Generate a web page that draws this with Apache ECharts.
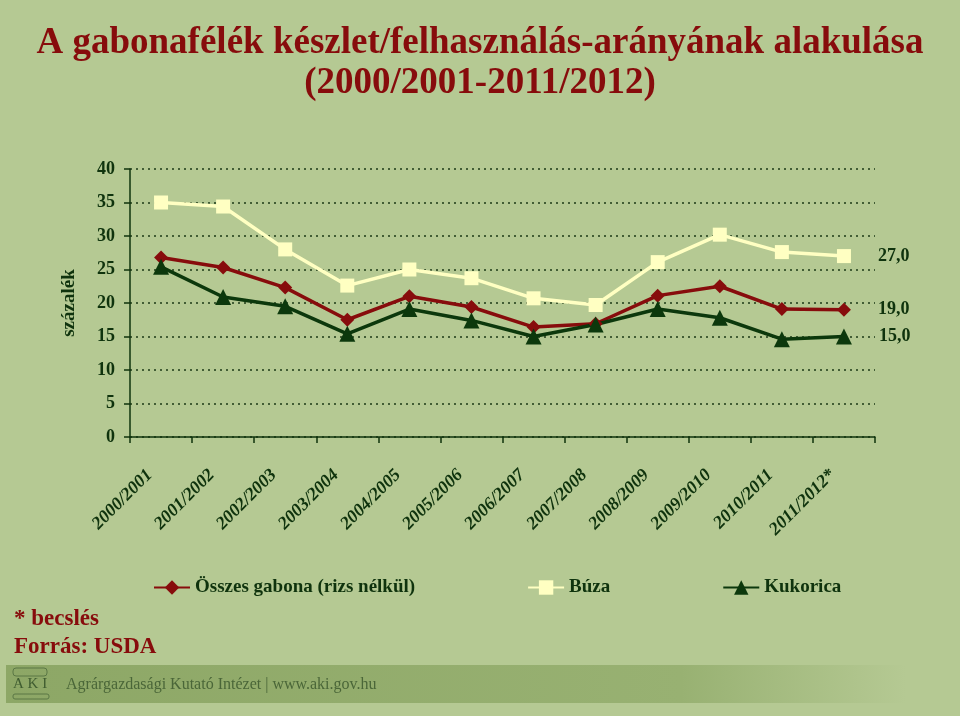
<!DOCTYPE html>
<html><head><meta charset="utf-8">
<script src="https://cdn.jsdelivr.net/npm/echarts@6/dist/echarts.min.js"></script>
<style>html,body{margin:0;padding:0;background:#b5c993}#c{width:960px;height:716px}</style>
</head><body><div id="c"></div>
<script>
const categories = ['2000/2001','2001/2002','2002/2003','2003/2004','2004/2005','2005/2006','2006/2007','2007/2008','2008/2009','2009/2010','2010/2011','2011/2012*'];
const osszes = [26.8,25.3,22.3,17.5,21.0,19.4,16.4,16.9,21.1,22.5,19.1,19.0];
const buza = [35.0,34.4,28.0,22.6,25.0,23.7,20.7,19.7,26.1,30.2,27.6,27.0];
const kukorica = [25.4,20.9,19.5,15.4,19.1,17.4,15.0,16.8,19.1,17.8,14.6,15.0];
const seriesNames = ['Összes gabona (rizs nélkül)','Búza','Kukorica'];
const yMin = 0, yMax = 40, yStep = 5;

const SERIF = '"Liberation Serif","Times New Roman",serif';
const DARK = '#0f330d';
const RED = '#870c0c';
const YEL = '#ffffc2';
const GRN = '#0c380c';

function lastLabel(n){
  return {
    show: true, position: 'right', distance: 27,
    fontFamily: SERIF, fontWeight: 'bold', fontSize: 18, color: DARK,
    formatter: p => p.dataIndex === n - 1 ? p.value.toFixed(1).replace('.', ',') : ''
  };
}
function mk(name, data, color, symbol, size){
  return {
    name, type: 'line', data, symbol, symbolSize: size,
    lineStyle: {color, width: 3.5},
    itemStyle: {color},
    label: lastLabel(data.length),
    z: 3
  };
}

const chart = echarts.init(document.getElementById('c'));
chart.setOption({
  backgroundColor: '#b5c993',
  animation: false,
  grid: {left: 130, right: 85, top: 169, bottom: 279, containLabel: false},
  xAxis: {
    type: 'category', data: categories, boundaryGap: true,
    axisLine: {lineStyle: {color: DARK, width: 1.5}},
    axisTick: {show: true, length: 6, lineStyle: {color: DARK, width: 1.5}},
    axisLabel: {rotate: 45, margin: 24, interval: 0, padding: [0, 16, 0, 0], fontFamily: SERIF, fontWeight: 'bold', fontStyle: 'italic', fontSize: 18, color: DARK},
    splitLine: {show: false}
  },
  yAxis: {
    type: 'value', min: yMin, max: yMax, interval: yStep,
    name: 'százalék', nameLocation: 'middle', nameRotate: 90, nameGap: 51,
    nameTextStyle: {fontFamily: SERIF, fontWeight: 'bold', fontSize: 19, color: DARK},
    axisLine: {show: true, lineStyle: {color: DARK, width: 1.5}},
    axisTick: {show: true, length: 6, lineStyle: {color: DARK, width: 1.5}},
    axisLabel: {margin: 15, fontFamily: SERIF, fontWeight: 'bold', fontSize: 18, color: DARK},
    splitLine: {show: true, lineStyle: {color: '#1d3a17', type: [2, 4], width: 1.5}}
  },
  legend: {
    left: 148, top: 573, itemGap: 112, itemWidth: 36, itemHeight: 18,
    textStyle: {fontFamily: SERIF, fontWeight: 'bold', fontSize: 19, color: DARK},
    data: seriesNames
  },
  series: [
    mk(seriesNames[0], osszes, RED, 'diamond', 14),
    mk(seriesNames[1], buza, YEL, 'rect', 14),
    mk(seriesNames[2], kukorica, GRN, 'triangle', 16)
  ],
  graphic: [
    {type: 'text', left: 'center', top: 25, style: {text: 'A gabonafélék készlet/felhasználás-arányának alakulása', font: 'bold 37px ' + SERIF, fill: RED}},
    {type: 'text', left: 'center', top: 65, style: {text: '(2000/2001-2011/2012)', font: 'bold 37px ' + SERIF, fill: RED}},
    {type: 'text', left: 14, top: 608, style: {text: '* becslés', font: 'bold 23px ' + SERIF, fill: RED}},
    {type: 'text', left: 14, top: 636, style: {text: 'Forrás: USDA', font: 'bold 23px ' + SERIF, fill: RED}},
    {type: 'rect', shape: {x: 6, y: 665, width: 900, height: 38}, z: -1,
      style: {fill: new echarts.graphic.LinearGradient(0, 0, 1, 0, [
        {offset: 0, color: '#8da766'}, {offset: 0.75, color: '#98b172'}, {offset: 1, color: '#b5c993'}])}},
    {type: 'rect', shape: {x: 13, y: 668, width: 34, height: 8, r: 3}, style: {fill: 'none', stroke: '#5a7745', lineWidth: 1}},
    {type: 'text', x: 13, y: 677, style: {text: 'A K I', font: '15px ' + SERIF, fill: '#3f5c30'}},
    {type: 'rect', shape: {x: 13, y: 694, width: 36, height: 5, r: 2}, style: {fill: 'none', stroke: '#5a7745', lineWidth: 1}},
    {type: 'text', x: 66, y: 677, style: {text: 'Agrárgazdasági Kutató Intézet | www.aki.gov.hu', font: '16px ' + SERIF, fill: '#4a6638'}}
  ]
});
</script></body></html>
